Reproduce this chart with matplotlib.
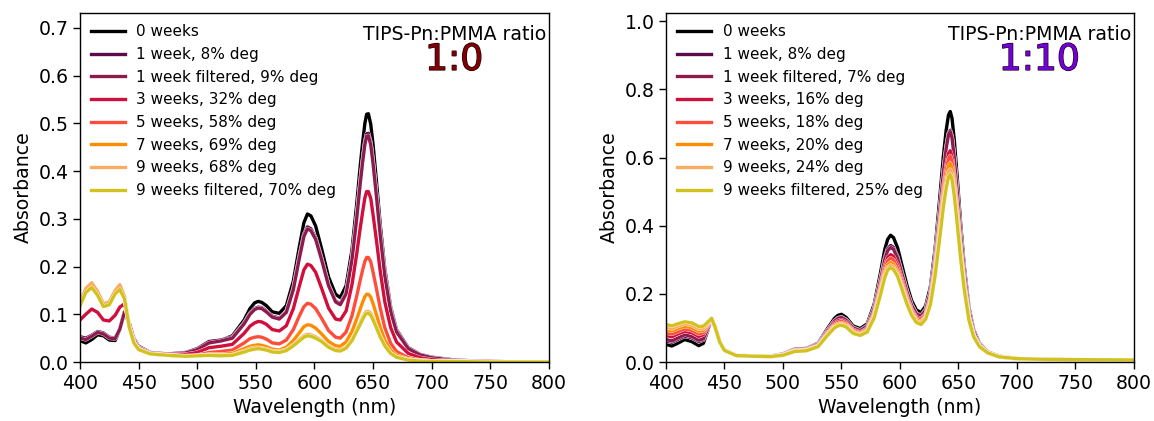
import matplotlib
matplotlib.use("Agg")
import matplotlib.pyplot as plt
import matplotlib.patheffects as pe

# wavelength grids (nm) for the two films
wl_1_0 = [400, 405, 410, 415, 420, 425, 430, 434, 438, 442, 446, 450, 460, 475, 490, 500, 510, 520, 530, 540,
          545, 549, 552, 555, 559, 564, 570, 576, 582, 587, 591, 594, 597, 601, 606, 612, 618, 622, 627, 632,
          636, 639, 641, 643, 644.5, 646, 648, 650, 653, 656, 660, 665, 670, 680, 690, 700, 720, 750, 800]
wl_1_10 = [400, 405, 410, 416, 422, 428, 432, 436, 439, 442, 446, 450, 460, 475, 490, 500, 510, 520, 530, 538,
           544, 547, 550, 554, 560, 566, 572, 578, 583, 587, 589.5, 592, 594.5, 598, 602, 606, 610, 614, 618, 622,
           626, 630, 634, 637, 639.5, 641.5, 643, 644.5, 646.5, 649, 652, 655, 659, 663, 668, 675, 685, 700, 720, 750, 800]

labels_1_0 = ["0 weeks", "1 week, 8% deg", "1 week filtered, 9% deg", "3 weeks, 32% deg", "5 weeks, 58% deg",
              "7 weeks, 69% deg", "9 weeks, 68% deg", "9 weeks filtered, 70% deg"]
labels_1_10 = ["0 weeks", "1 week, 8% deg", "1 week filtered, 7% deg", "3 weeks, 16% deg", "5 weeks, 18% deg",
               "7 weeks, 20% deg", "9 weeks, 24% deg", "9 weeks filtered, 25% deg"]

colors = ["#000000", "#5c0a4c", "#8e1a4e", "#d10f3c", "#ff4d3c", "#ff8c00", "#f9ad62", "#d2c21e"]

# ---- TIPS-Pn:PMMA 1:0 ----
a10_w0 = [.045, .040, .047, .057, .055, .046, .045, .068, .104, .082, .050, .033, .020, .017, .019, .026, .040, .045, .055, .088,
          .112, .124, .127, .125, .118, .105, .102, .118, .170, .240, .292, .310, .306, .285, .238, .178, .142, .135, .160, .235,
          .330, .410, .458, .500, .519, .520, .498, .455, .375, .290, .195, .115, .068, .030, .016, .010, .004, .001, .000]
a10_w1 = [.053, .050, .056, .064, .061, .052, .050, .070, .106, .082, .048, .031, .019, .017, .020, .028, .043, .046, .052, .082,
          .102, .112, .115, .114, .107, .096, .092, .106, .155, .220, .267, .283, .279, .260, .218, .162, .128, .122, .146, .218,
          .305, .378, .422, .461, .478, .479, .460, .420, .348, .272, .185, .110, .066, .030, .016, .010, .004, .001, .000]
a10_w1f = [.050, .047, .054, .062, .059, .050, .049, .069, .105, .081, .047, .030, .019, .017, .019, .026, .040, .044, .050, .080,
           .100, .110, .113, .112, .105, .094, .090, .104, .152, .216, .263, .279, .275, .257, .215, .160, .126, .120, .143, .214,
           .300, .373, .417, .456, .473, .474, .455, .415, .344, .268, .180, .106, .063, .028, .015, .009, .003, .001, .000]
a10_w3 = [.088, .100, .111, .104, .088, .086, .098, .115, .122, .082, .046, .030, .018, .016, .016, .020, .030, .033, .037, .060,
          .075, .082, .085, .084, .079, .068, .065, .076, .112, .158, .193, .205, .202, .188, .155, .113, .090, .088, .107, .162,
          .226, .280, .313, .344, .357, .357, .343, .308, .252, .192, .126, .072, .042, .018, .009, .005, .002, .001, .000]
a10_w5 = [.120, .148, .160, .142, .118, .122, .145, .157, .135, .075, .042, .028, .017, .015, .013, .014, .020, .022, .025, .040,
          .049, .052, .053, .052, .048, .040, .038, .046, .068, .096, .116, .123, .121, .112, .092, .066, .052, .050, .063, .097,
          .138, .171, .192, .211, .219, .219, .210, .188, .152, .114, .072, .039, .022, .009, .004, .002, .001, .000, .000]
a10_w7 = [.122, .150, .162, .144, .119, .123, .147, .158, .135, .074, .041, .027, .017, .014, .012, .013, .016, .016, .018, .028,
          .033, .035, .036, .035, .032, .027, .025, .031, .045, .061, .074, .078, .077, .071, .059, .043, .034, .033, .042, .064,
          .090, .111, .125, .137, .142, .142, .136, .122, .098, .073, .046, .025, .014, .006, .003, .002, .001, .000, .000]
a10_w9 = [.125, .154, .166, .148, .122, .126, .150, .162, .137, .075, .041, .027, .017, .014, .012, .013, .015, .014, .015, .023,
          .028, .030, .030, .029, .027, .023, .022, .026, .036, .047, .055, .058, .057, .053, .045, .033, .026, .025, .031, .047,
          .067, .082, .093, .102, .106, .106, .102, .092, .074, .055, .035, .019, .011, .005, .003, .002, .001, .000, .000]
a10_w9f = [.118, .146, .156, .140, .116, .120, .143, .152, .132, .073, .040, .026, .017, .014, .012, .013, .014, .013, .014, .021,
           .025, .027, .028, .027, .025, .021, .020, .024, .034, .044, .052, .055, .054, .050, .043, .031, .024, .023, .029, .045,
           .064, .079, .089, .098, .102, .102, .098, .088, .071, .053, .034, .018, .010, .004, .002, .001, .001, .000, .000]

# ---- TIPS-Pn:PMMA 1:10 ----
a110_w0 = [.052, .047, .055, .066, .060, .048, .055, .095, .128, .105, .060, .036, .020, .018, .018, .024, .038, .040, .055, .098,
           .128, .137, .140, .131, .106, .098, .112, .170, .255, .330, .360, .372, .365, .335, .280, .225, .180, .153, .145, .165,
           .220, .330, .480, .600, .680, .725, .735, .715, .650, .540, .400, .280, .160, .095, .055, .030, .017, .010, .008, .006, .005]
a110_w1 = [.062, .058, .066, .076, .071, .060, .065, .098, .127, .104, .059, .035, .019, .017, .017, .023, .037, .039, .053, .093,
           .121, .129, .132, .124, .101, .093, .106, .160, .238, .305, .332, .342, .336, .309, .259, .209, .168, .143, .136, .155,
           .206, .308, .446, .556, .630, .671, .680, .662, .602, .502, .373, .262, .150, .090, .053, .029, .016, .010, .008, .006, .005]
a110_w1f = [.066, .062, .070, .080, .075, .064, .068, .100, .127, .104, .059, .035, .019, .017, .017, .023, .037, .039, .052, .092,
            .120, .128, .131, .123, .100, .092, .105, .158, .235, .300, .327, .336, .331, .304, .255, .206, .166, .141, .134, .153,
            .204, .305, .442, .552, .626, .667, .676, .658, .598, .498, .370, .260, .149, .089, .052, .029, .016, .010, .008, .006, .005]
a110_w3 = [.078, .074, .082, .090, .086, .075, .080, .106, .127, .103, .058, .034, .019, .017, .017, .022, .035, .037, .050, .088,
           .114, .121, .124, .117, .095, .087, .099, .148, .220, .282, .307, .315, .310, .285, .240, .193, .155, .132, .126, .143,
           .190, .285, .412, .512, .575, .612, .620, .604, .549, .456, .338, .237, .136, .081, .048, .027, .015, .009, .008, .006, .005]
a110_w5 = [.086, .082, .089, .097, .093, .082, .086, .109, .127, .102, .058, .034, .019, .017, .016, .021, .034, .036, .048, .085,
           .110, .117, .120, .113, .092, .085, .096, .143, .213, .273, .297, .305, .300, .276, .232, .187, .151, .128, .122, .139,
           .185, .277, .400, .497, .561, .597, .605, .589, .535, .445, .330, .232, .133, .080, .048, .027, .015, .009, .008, .006, .005]
a110_w7 = [.095, .091, .098, .105, .101, .090, .093, .112, .127, .102, .058, .034, .019, .017, .016, .021, .033, .035, .047, .082,
           .106, .112, .115, .109, .089, .082, .093, .138, .205, .262, .285, .292, .287, .265, .223, .180, .146, .124, .118, .134,
           .178, .267, .386, .479, .541, .576, .583, .568, .516, .430, .320, .225, .130, .078, .047, .027, .015, .010, .008, .007, .006]
a110_w9 = [.102, .098, .105, .112, .108, .097, .099, .115, .128, .102, .058, .034, .019, .017, .016, .020, .032, .034, .046, .080,
           .103, .109, .112, .106, .086, .080, .090, .134, .199, .254, .277, .284, .279, .257, .217, .175, .141, .120, .114, .130,
           .173, .259, .374, .464, .524, .558, .565, .550, .500, .416, .310, .218, .126, .076, .046, .027, .015, .010, .008, .007, .006]
a110_w9f = [.110, .106, .112, .118, .115, .104, .105, .118, .128, .102, .058, .034, .019, .017, .016, .020, .031, .033, .045, .078,
            .100, .106, .108, .103, .084, .078, .088, .130, .193, .247, .270, .277, .272, .251, .211, .170, .137, .116, .110, .126,
            .168, .252, .364, .452, .510, .543, .550, .536, .487, .404, .300, .212, .122, .074, .045, .027, .015, .010, .008, .007, .006]

series_1_0 = [a10_w0, a10_w1, a10_w1f, a10_w3, a10_w5, a10_w7, a10_w9, a10_w9f]
series_1_10 = [a110_w0, a110_w1, a110_w1f, a110_w3, a110_w5, a110_w7, a110_w9, a110_w9f]

FS = 13.6


def draw_panel(ax, wl, series, labels, ratio, ratio_color, ymax, ystep):
    for ys, lab, col in zip(series, labels, colors):
        ax.plot(wl, ys, color=col, lw=2.4, label=lab, solid_joinstyle="round",
                path_effects=[pe.Stroke(linewidth=2.9, foreground="white"), pe.Normal()])
    ax.set_xlim(400, 800)
    ax.set_ylim(0, ymax)
    ax.set_xticks(range(400, 801, 50))
    n = int(round(ymax // ystep)) + 1
    ax.set_yticks([round(i * ystep, 1) for i in range(n)])
    ax.tick_params(labelsize=FS, length=4.8, width=1.0)
    for sp in ax.spines.values():
        sp.set_linewidth(1.0)
    ax.set_xlabel("Wavelength (nm)", fontsize=FS)
    ax.set_ylabel("Absorbance", fontsize=FS)
    leg = ax.legend(loc="upper left", frameon=False, fontsize=11, handlelength=2.2,
                    handletextpad=0.75, borderaxespad=0.35)
    for line in leg.get_lines():
        line.set_path_effects([])
        line.set_linewidth(2.4)
    ax.text(0.994, 0.922, "TIPS-Pn:PMMA ratio", transform=ax.transAxes, ha="right", va="baseline", fontsize=FS)
    ax.text(0.798, 0.837, ratio, transform=ax.transAxes, ha="center", va="baseline", fontsize=26,
            color=ratio_color, path_effects=[pe.Stroke(linewidth=1.0, foreground="#200010"), pe.Normal()])


fig = plt.figure(figsize=(11.54, 4.21), dpi=100)
ax1 = fig.add_axes([0.0693, 0.1401, 0.4064, 0.829])
ax2 = fig.add_axes([0.5771, 0.1401, 0.4055, 0.829])

draw_panel(ax1, wl_1_0, series_1_0, labels_1_0, "1:0", "#800000", 0.731, 0.1)
draw_panel(ax2, wl_1_10, series_1_10, labels_1_10, "1:10", "#7200dc", 1.024, 0.2)

fig.savefig("out.png", dpi=100)
